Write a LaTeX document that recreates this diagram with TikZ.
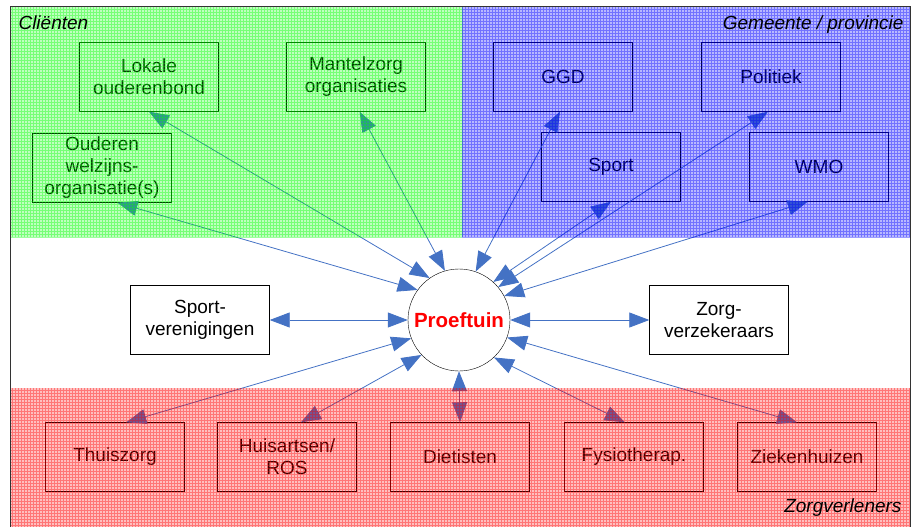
\documentclass[tikz,border=0pt]{standalone}
\usepackage{fontspec}
\setmainfont{Liberation Sans}
\usetikzlibrary{arrows.meta}
\definecolor{linkblue}{HTML}{4472C4}

\begin{document}
\begin{tikzpicture}[x=1pt,y=-1pt,
  box/.style={draw, minimum width=139pt, minimum height=69pt, align=center,
    inner sep=2pt, font=\fontsize{19}{22}\selectfont},
  link/.style={linkblue, line width=0.8pt,
    {Triangle[length=20pt,width=15pt]}-{Triangle[length=20pt,width=15pt]}},
  hatch/.style={line width=0.6pt, opacity=0.38},
  tag/.style={font=\fontsize{19}{22}\selectfont\itshape}]

\useasboundingbox (0,0) rectangle (913,527);

% Centre
\node[circle, draw, minimum size=102pt, inner sep=0pt, text=red,
  font=\fontsize{20.5}{24}\selectfont\bfseries] (hub) at (459,320) {Proeftuin};

% Clienten
\node[box] (lok) at (149,77) {Lokale\\ouderenbond};
\node[box] (man) at (356,77) {Mantelzorg\\organisaties};
\node[box] (ow) at (102,168) {Ouderen\\welzijns-\\organisatie(s)};

% Gemeente / provincie
\node[box] (ggd) at (563,77) {GGD};
\node[box] (pol) at (771,77) {Politiek};
\node[box] (sport) at (611,167) {Sport};
\node[box] (wmo) at (819,167) {WMO};

% Middle row
\node[box] (sv) at (200,320) {Sport-\\verenigingen};
\node[box] (zv) at (719,320) {Zorg-\\verzekeraars};

% Zorgverleners
\node[box] (thuis) at (115,457) {Thuiszorg};
\node[box] (huis) at (287,457) {Huisartsen/\\ROS};
\node[box] (diet) at (460,457) {Dietisten};
\node[box] (fys) at (634,457) {Fysiotherap.};
\node[box] (ziek) at (807,457) {Ziekenhuizen};

% Links to the centre
\draw[link] (ow.-66) -- (hub.144);
\draw[link] (lok.south) -- (hub.125);
\draw[link] (man.-84) -- (hub.106);
\draw[link] (ggd.-95) -- (hub.71);
\draw[link] (sport.south) -- (hub.48);
\draw[link] (pol.-95) -- (hub.40);
\draw[link] (wmo.-108) -- (hub.28);
\draw[link] (sv.east) -- (hub.west);
\draw[link] (hub.east) -- (zv.west);
\draw[link] (thuis.72) -- (hub.201);
\draw[link] (huis.68) -- (hub.223);
\draw[link] (diet.north) -- (hub.south);
\draw[link] (fys.105) -- (hub.313);
\draw[link] (ziek.106) -- (hub.340);

% Hatched areas over everything
\fill[green, fill opacity=0.25] (10,7) rectangle (462,237);
\draw[hatch, green, step=3pt] (10,7) grid (462,237);
\fill[blue, fill opacity=0.28] (462,7) rectangle (910,237);
\draw[hatch, blue, step=3pt] (462,7) grid (910,237);
\fill[red, fill opacity=0.25] (10,388) rectangle (910,527);
\draw[hatch, red, step=3pt] (10,388) grid (910,527);

% Frame
\draw[line width=1pt, black!80] (10,7) rectangle (910,527);

% Area names
\node[tag, anchor=base west] (cl) at (15,30) {Cliënten};
\node[tag, anchor=base east] (gp) at (907,30) {Gemeente / provincie};
\node[tag, anchor=base east] (zl) at (905,512) {Zorgverleners};

\end{tikzpicture}
\end{document}
